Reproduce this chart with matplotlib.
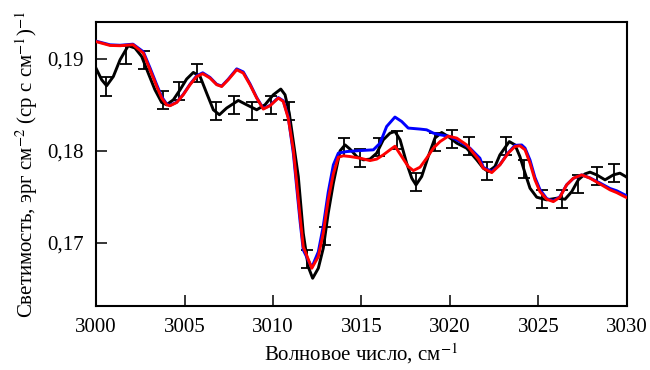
import matplotlib
matplotlib.use("Agg")
import matplotlib.pyplot as plt

# ---------------------------------------------------------------------------
# Данные
# ---------------------------------------------------------------------------
# наблюдения: точки с погрешностями
x_err = [3000.56, 3001.69, 3002.71, 3003.77, 3004.71, 3005.72, 3006.78, 3007.80,
         3008.81, 3009.89, 3010.90, 3011.90, 3012.94, 3014.02, 3014.90, 3015.99,
         3016.99, 3018.08, 3019.15, 3020.10, 3021.07, 3022.10, 3023.16, 3024.18,
         3025.18, 3026.31, 3027.25, 3028.29, 3029.28]
y_err = [0.18701, 0.19047, 0.18992, 0.18556, 0.18654, 0.18851, 0.18436, 0.18502,
         0.18436, 0.18502, 0.18436, 0.16822, 0.17073, 0.18044, 0.17924, 0.18044,
         0.18120, 0.17662, 0.18098, 0.18131, 0.18055, 0.17782, 0.18055, 0.17804,
         0.17477, 0.17477, 0.17640, 0.17727, 0.17760]
sigma = 0.001

# наблюдаемый спектр (чёрная кривая)
x_obs = [3000.00, 3000.32, 3000.60, 3000.98, 3001.36, 3001.82, 3002.20, 3002.58,
         3002.95, 3003.33, 3003.71, 3003.99, 3004.37, 3004.75, 3005.12, 3005.50,
         3005.88, 3006.25, 3006.63, 3006.97, 3007.38, 3008.04, 3008.51, 3009.08,
         3009.55, 3010.02, 3010.44, 3010.68, 3010.92, 3011.20, 3011.43, 3011.71,
         3011.99, 3012.24, 3012.56, 3012.84, 3013.12, 3013.41, 3013.79, 3014.07,
         3014.35, 3014.73, 3015.10, 3015.48, 3015.86, 3016.23, 3016.61, 3016.89,
         3017.18, 3017.55, 3017.84, 3018.08, 3018.40, 3018.77, 3019.15, 3019.53,
         3019.90, 3020.38, 3020.94, 3021.51, 3021.88, 3022.16, 3022.54, 3022.82,
         3023.35, 3023.67, 3023.95, 3024.24, 3024.52, 3024.90, 3025.46, 3026.03,
         3026.50, 3026.88, 3027.25, 3027.63, 3027.91, 3028.29, 3028.76, 3029.23,
         3029.60, 3029.93, 3030.00]
y_obs = [0.18900, 0.18774, 0.18709, 0.18810, 0.18992, 0.19145, 0.19120, 0.19028,
         0.18847, 0.18665, 0.18527, 0.18502, 0.18556, 0.18665, 0.18782, 0.18854,
         0.18810, 0.18629, 0.18447, 0.18393, 0.18466, 0.18549, 0.18502, 0.18447,
         0.18502, 0.18611, 0.18673, 0.18611, 0.18411, 0.18030, 0.17720, 0.17103,
         0.16738, 0.16612, 0.16721, 0.16939, 0.17321, 0.17648, 0.18000, 0.18065,
         0.18019, 0.17938, 0.17902, 0.17910, 0.17975, 0.18120, 0.18193, 0.18211,
         0.18120, 0.17866, 0.17702, 0.17629, 0.17720, 0.17938, 0.18139, 0.18200,
         0.18156, 0.18084, 0.18029, 0.17902, 0.17811, 0.17774, 0.17829, 0.17956,
         0.18101, 0.18065, 0.17938, 0.17757, 0.17593, 0.17495, 0.17466, 0.17484,
         0.17473, 0.17556, 0.17684, 0.17749, 0.17768, 0.17738, 0.17684, 0.17738,
         0.17757, 0.17720, 0.17710]

# модель 1 (синяя кривая)
x_blue = [3000.00, 3000.79, 3001.36, 3002.09, 3002.67, 3003.05, 3003.43, 3003.71,
          3003.99, 3004.18, 3004.56, 3004.93, 3005.31, 3005.69, 3006.03, 3006.44,
          3006.82, 3007.10, 3007.47, 3007.95, 3008.32, 3008.70, 3009.08, 3009.45,
          3009.83, 3010.30, 3010.58, 3010.86, 3011.15, 3011.34, 3011.53, 3011.71,
          3012.19, 3012.56, 3012.84, 3013.12, 3013.41, 3013.69, 3014.16, 3014.92,
          3015.67, 3016.05, 3016.42, 3016.89, 3017.27, 3017.64, 3018.31, 3018.68,
          3019.06, 3019.44, 3020.00, 3020.56, 3021.13, 3021.69, 3021.88, 3022.36,
          3022.82, 3023.29, 3023.67, 3024.05, 3024.24, 3024.52, 3024.80, 3025.08,
          3025.46, 3025.84, 3026.21, 3026.59, 3026.97, 3027.44, 3027.91, 3028.47,
          3029.04, 3029.42, 3029.93, 3030.00]
y_blue = [0.19195, 0.19155, 0.19150, 0.19162, 0.19080, 0.18905, 0.18720, 0.18590,
          0.18510, 0.18495, 0.18530, 0.18615, 0.18725, 0.18818, 0.18850, 0.18800,
          0.18725, 0.18705, 0.18780, 0.18893, 0.18860, 0.18730, 0.18580, 0.18460,
          0.18495, 0.18580, 0.18545, 0.18370, 0.17970, 0.17600, 0.17230, 0.16920,
          0.16730, 0.16900, 0.17180, 0.17550, 0.17847, 0.17975, 0.17992, 0.18003,
          0.18011, 0.18084, 0.18265, 0.18368, 0.18320, 0.18248, 0.18237, 0.18229,
          0.18193, 0.18175, 0.18156, 0.18101, 0.18029, 0.17920, 0.17820, 0.17775,
          0.17850, 0.17980, 0.18060, 0.18064, 0.18030, 0.17900, 0.17710, 0.17580,
          0.17480, 0.17455, 0.17500, 0.17630, 0.17700, 0.17738, 0.17705, 0.17650,
          0.17590, 0.17565, 0.17515, 0.17510]

# модель 2 (красная кривая)
x_red = [3000.00, 3000.79, 3001.36, 3002.09, 3002.67, 3003.05, 3003.43, 3003.71,
         3003.99, 3004.18, 3004.56, 3004.93, 3005.31, 3005.69, 3006.03, 3006.44,
         3006.82, 3007.10, 3007.47, 3007.95, 3008.32, 3008.70, 3009.08, 3009.45,
         3009.83, 3010.30, 3010.58, 3010.86, 3011.15, 3011.34, 3011.53, 3011.71,
         3012.19, 3012.56, 3012.84, 3013.12, 3013.41, 3013.69, 3013.97, 3014.35,
         3014.92, 3015.48, 3015.86, 3016.23, 3016.61, 3016.89, 3017.27, 3017.64,
         3017.93, 3018.31, 3018.68, 3019.06, 3019.44, 3019.90, 3020.38, 3020.94,
         3021.60, 3021.88, 3022.36, 3022.82, 3023.29, 3023.67, 3023.95, 3024.24,
         3024.52, 3024.80, 3025.08, 3025.46, 3025.84, 3026.21, 3026.59, 3026.97,
         3027.44, 3027.91, 3028.47, 3029.04, 3029.42, 3029.93, 3030.00]
y_red = [0.19190, 0.19148, 0.19145, 0.19156, 0.19065, 0.18883, 0.18701, 0.18575,
         0.18502, 0.18491, 0.18527, 0.18611, 0.18720, 0.18810, 0.18840, 0.18793,
         0.18720, 0.18701, 0.18774, 0.18883, 0.18847, 0.18720, 0.18575, 0.18455,
         0.18491, 0.18575, 0.18538, 0.18357, 0.18011, 0.17648, 0.17284, 0.16956,
         0.16721, 0.16847, 0.17103, 0.17466, 0.17750, 0.17930, 0.17946, 0.17938,
         0.17920, 0.17894, 0.17910, 0.17956, 0.18011, 0.18050, 0.17938, 0.17829,
         0.17785, 0.17822, 0.17920, 0.18029, 0.18101, 0.18160, 0.18139, 0.18065,
         0.17910, 0.17811, 0.17763, 0.17847, 0.17975, 0.18047, 0.18055, 0.18011,
         0.17866, 0.17684, 0.17556, 0.17473, 0.17447, 0.17495, 0.17629, 0.17702,
         0.17738, 0.17702, 0.17640, 0.17575, 0.17545, 0.17495, 0.17490]

x_ticks = [3000, 3005, 3010, 3015, 3020, 3025, 3030]
y_ticks = [0.17, 0.18, 0.19]
y_tick_labels = ['0,17', '0,18', '0,19']

# ---------------------------------------------------------------------------
# Рисунок
# ---------------------------------------------------------------------------
plt.rcParams['font.family'] = ['Liberation Serif', 'DejaVu Serif']
plt.rcParams['mathtext.fontset'] = 'stix'
plt.rcParams['font.size'] = 15

fig = plt.figure(figsize=(6.5, 3.7), dpi=100)
ax = fig.add_axes([0.1477, 0.173, 0.8169, 0.7667])

ax.plot(x_obs, y_obs, color='black', lw=2.1, solid_joinstyle='round', zorder=3)
ax.errorbar(x_err, y_err, yerr=sigma, fmt='none', ecolor='black',
            elinewidth=1.3, capsize=4, capthick=1.3, zorder=3)
ax.plot(x_blue, y_blue, color='#0000ff', lw=2.1, solid_joinstyle='round', zorder=4)
ax.plot(x_red, y_red, color='#ff0000', lw=2.1, solid_joinstyle='round', zorder=5)

ax.set_xlim(3000, 3030)
ax.set_ylim(0.1631, 0.1940)
ax.set_xticks(x_ticks)
ax.set_yticks(y_ticks)
ax.set_yticklabels(y_tick_labels)
ax.tick_params(direction='in', length=8, width=1.1, pad=9,
               top=False, right=False)
for s in ax.spines.values():
    s.set_linewidth(1.5)

ax.set_xlabel('Волновое число, см$^{-1}$', labelpad=3)
ax.set_ylabel('Светимость, эрг см$^{-2}$ (ср с см$^{-1}$)$^{-1}$', labelpad=5)

fig.savefig('out.png', dpi=100)
